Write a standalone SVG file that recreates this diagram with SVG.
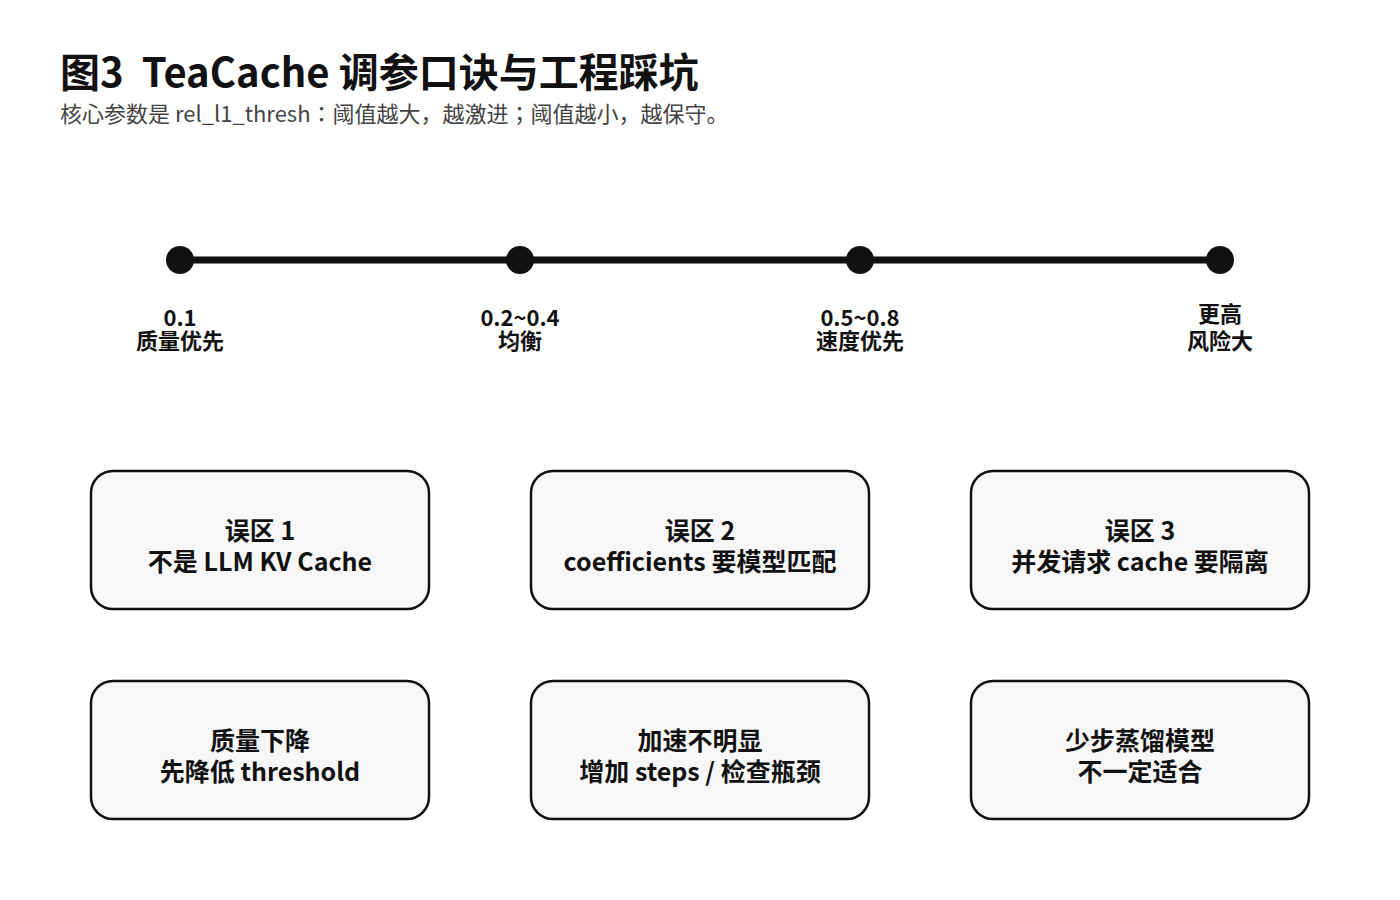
<svg xmlns="http://www.w3.org/2000/svg" width="1400" height="900" viewBox="0 0 1400 900">
<style>
text{font-family:"Noto Sans CJK SC","Noto Sans",sans-serif;fill:#111}
.t{font-size:40px;font-weight:bold}
.s{font-size:22px;fill:#444;font-family:"Noto Sans CJK JP","Noto Sans",sans-serif}
.l{font-size:22px;font-weight:bold;text-anchor:middle}
.b{fill:#f7f7f7;stroke:#111;stroke-width:2.5}
.bt{font-size:25px;font-weight:bold;text-anchor:middle}
.d{fill:#111}
</style>
<rect width="1400" height="900" fill="#fff"/>
<text class="t" x="60" y="87" xml:space="preserve">图3  TeaCache 调参口诀与工程踩坑</text>
<text class="s" x="60" y="122">核心参数是 rel_l1_thresh：阈值越大，越激进；阈值越小，越保守。</text>
<g id="connectors"><line x1="180" y1="260" x2="1220" y2="260" stroke="#111" stroke-width="7"/></g>
<g id="t1"><circle class="d" cx="180" cy="260" r="14"/><text class="l" x="180" y="326">0.1</text><text class="l" x="180" y="349">质量优先</text></g>
<g id="t2"><circle class="d" cx="520" cy="260" r="14"/><text class="l" x="520" y="326">0.2~0.4</text><text class="l" x="520" y="349">均衡</text></g>
<g id="t3"><circle class="d" cx="860" cy="260" r="14"/><text class="l" x="860" y="326">0.5~0.8</text><text class="l" x="860" y="349">速度优先</text></g>
<g id="t4"><circle class="d" cx="1220" cy="260" r="14"/><text class="l" x="1220" y="322">更高</text><text class="l" x="1220" y="349">风险大</text></g>
<g id="b1"><rect class="b" x="91" y="471" width="338" height="138" rx="22"/><text class="bt" x="260" y="540">误区 1</text><text class="bt" x="260" y="571">不是 LLM KV Cache</text></g>
<g id="b2"><rect class="b" x="531" y="471" width="338" height="138" rx="22"/><text class="bt" x="700" y="540">误区 2</text><text class="bt" x="700" y="571">coefficients 要模型匹配</text></g>
<g id="b3"><rect class="b" x="971" y="471" width="338" height="138" rx="22"/><text class="bt" x="1140" y="540">误区 3</text><text class="bt" x="1140" y="571">并发请求 cache 要隔离</text></g>
<g id="b4"><rect class="b" x="91" y="681" width="338" height="138" rx="22"/><text class="bt" x="260" y="750">质量下降</text><text class="bt" x="260" y="781">先降低 threshold</text></g>
<g id="b5"><rect class="b" x="531" y="681" width="338" height="138" rx="22"/><text class="bt" x="700" y="750">加速不明显</text><text class="bt" x="700" y="781">增加 steps / 检查瓶颈</text></g>
<g id="b6"><rect class="b" x="971" y="681" width="338" height="138" rx="22"/><text class="bt" x="1140" y="750">少步蒸馏模型</text><text class="bt" x="1140" y="781">不一定适合</text></g>
</svg>
